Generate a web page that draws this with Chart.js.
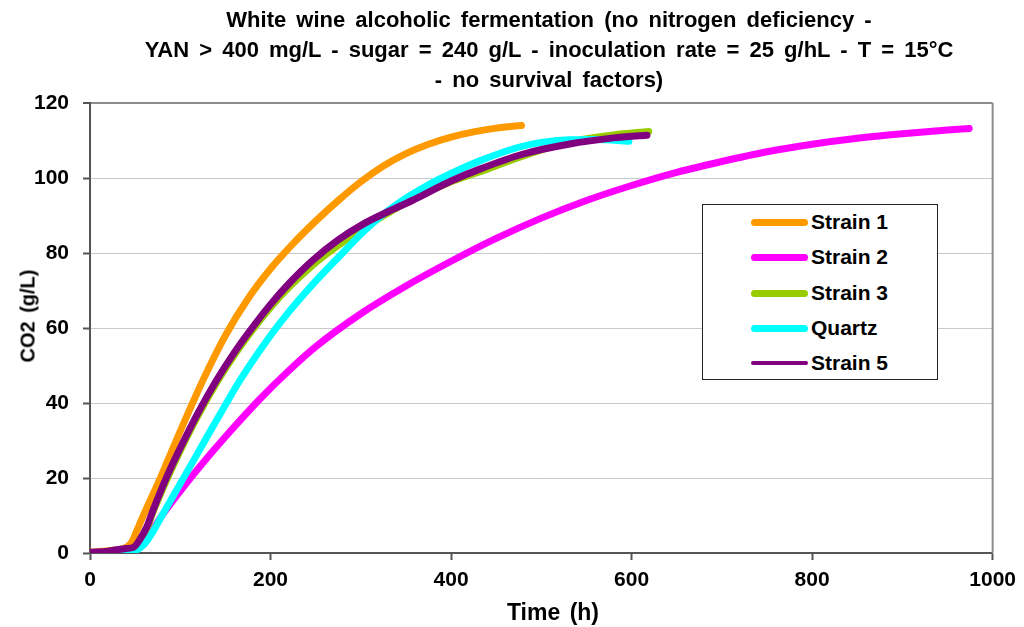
<!DOCTYPE html>
<html>
<head>
<meta charset="utf-8">
<script src="https://cdn.jsdelivr.net/npm/chart.js@4.4.1/dist/chart.umd.min.js"></script>
<style>
  html, body { margin: 0; padding: 0; background: #fff; }
  #wrap { position: relative; width: 1024px; height: 627px; font-family: 'Liberation Sans', Arial, sans-serif; }
  #title {
    position: absolute; left: 549px; top: 5px; transform: translateX(-50%);
    white-space: nowrap; text-align: center; font-weight: bold; font-size: 22px; line-height: 30px;
    word-spacing: 4px; color: #000;
  }
  .axis-title { position: absolute; white-space: nowrap; font-weight: bold; color: #000; word-spacing: 3px; }
  #xTitle { left: 553px; top: 612px; font-size: 23px; transform: translate(-50%, -50%); }
  #yTitle { left: 28px; top: 316px; font-size: 20px; transform: translate(-50%, -50%) rotate(-90deg); }
  #legend {
    position: absolute; left: 702px; top: 204px; width: 236px; height: 176px;
    border: 1px solid #222; background: #fff; box-sizing: border-box;
  }
  .row { position: absolute; left: 0; height: 30px; }
  .swatch { position: absolute; left: 48px; width: 57px; border-radius: 4px; }
  .lbl { position: absolute; left: 108px; font-weight: bold; font-size: 21px; white-space: nowrap; line-height: 30px; top: -15px; }
</style>
</head>
<body>
<div id="wrap">
  <canvas id="chart" width="1024" height="627"></canvas>
  <div id="title">White wine alcoholic fermentation (no nitrogen deficiency -<br>YAN &gt; 400 mg/L - sugar = 240 g/L - inoculation rate = 25 g/hL - T = 15°C<br>- no survival factors)</div>
  <div id="xTitle" class="axis-title">Time (h)</div>
  <div id="yTitle" class="axis-title">CO2 (g/L)</div>
  <div id="legend"></div>
</div>
<script>
// ====== データ（時間 h / CO2 g/L） ======
const seriesNames = ['Strain 1', 'Strain 2', 'Strain 3', 'Quartz', 'Strain 5'];
const seriesColors = ['#FF9900', '#FF00FF', '#99CC00', '#00FFFF', '#800080'];
const legendLineWidths = [7, 7, 7, 7, 4];

const strain1Time = [0, 20, 40, 46, 52, 60, 77, 100, 125, 150, 175, 200, 225, 250, 275, 300, 325, 350, 375, 400, 425, 450, 478];
const strain1Co2  = [0.2, 0.6, 1.5, 2.8, 6, 10.5, 19.5, 32.5, 46, 58, 67.8, 75.8, 82.5, 88.5, 94, 99, 103.2, 106.5, 109, 110.9, 112.3, 113.3, 114];

const strain2Time = [0, 20, 40, 50, 60, 68, 77, 100, 125, 150, 188, 221, 250, 300, 350, 400, 450, 500, 550, 600, 650, 700, 750, 800, 850, 900, 950, 974];
const strain2Co2  = [0.1, 0.2, 0.3, 0.8, 2.5, 5.5, 9, 16.5, 24, 31, 41, 48.8, 55, 63.8, 71.2, 77.8, 83.9, 89.3, 94, 98, 101.5, 104.4, 107, 109, 110.6, 111.8, 112.8, 113.2];

const strain3Time = [0, 20, 40, 48, 55, 63, 70, 85, 100, 120, 140, 160, 177, 200, 221, 247, 275, 304, 330, 357, 400, 431, 480, 530, 580, 619];
const strain3Co2  = [0.1, 0.3, 0.9, 1.3, 3.2, 6.5, 11, 19.5, 27.3, 36.8, 45.3, 52.8, 58.5, 65.5, 71, 76.8, 82, 86.8, 90.6, 94.3, 99, 101.6, 105.9, 109.6, 111.5, 112.4];

const quartzTime = [0, 20, 40, 50, 60, 68, 77, 100, 125, 150, 166, 200, 221, 250, 283, 300, 325, 350, 375, 400, 431, 475, 500, 530, 560, 597];
const quartzCo2  = [0.1, 0.1, 0.2, 0.6, 2.3, 5, 8.8, 18.5, 29, 39.5, 46, 58, 64.5, 72.5, 80.8, 85, 90.3, 94.6, 98.2, 101.2, 104.5, 108.2, 109.5, 110.2, 110.3, 109.8];

const strain5Time = [0, 20, 40, 48, 55, 63, 70, 85, 100, 120, 140, 160, 177, 200, 221, 247, 275, 304, 330, 357, 400, 431, 480, 530, 580, 617];
const strain5Co2  = [0.2, 0.5, 1.2, 1.5, 3.5, 7, 11.5, 20.3, 28, 37.5, 46, 53.5, 59.2, 66.3, 72, 78.1, 83.5, 87.9, 91, 94, 99.2, 102.3, 106.4, 109, 110.7, 111.4];

const xTicks = [0, 200, 400, 600, 800, 1000];
const yTicks = [0, 20, 40, 60, 80, 100, 120];

const seriesTime = [strain1Time, strain2Time, strain3Time, quartzTime, strain5Time];
const seriesCo2 = [strain1Co2, strain2Co2, strain3Co2, quartzCo2, strain5Co2];

const FONT = "'Liberation Sans', Arial, sans-serif";

const datasets = seriesNames.map((name, i) => ({
    label: name,
    data: seriesTime[i].map((t, k) => ({ x: t, y: seriesCo2[i][k] })),
    borderColor: seriesColors[i],
    backgroundColor: seriesColors[i],
    borderWidth: 7,
    borderCapStyle: 'round',
    borderJoinStyle: 'round',
    pointRadius: 0,
    cubicInterpolationMode: 'monotone',
    order: seriesNames.length - i,   // 後の系列を上に描く
}));

// プロット領域の右枠線
const frame = {
    id: 'frame',
    beforeDatasetsDraw(chart) {
        const { ctx, chartArea: a } = chart;
        ctx.save();
        ctx.strokeStyle = '#8c8c8c';
        ctx.lineWidth = 2;
        ctx.beginPath();
        ctx.moveTo(a.right, a.top);
        ctx.lineTo(a.right, a.bottom);
        ctx.stroke();
        ctx.restore();
    },
};

const chart = new Chart(document.getElementById('chart'), {
    type: 'line',
    data: { datasets },
    plugins: [frame],
    options: {
        responsive: false,
        animation: false,
        devicePixelRatio: 1,
        layout: { padding: { top: 103, right: 29, left: 0, bottom: 0 } },
        plugins: { legend: { display: false }, tooltip: { enabled: false }, title: { display: false } },
        scales: {
            x: {
                type: 'linear', min: 0, max: 1000,
                afterFit: (s) => { s.height = 74; },
                afterBuildTicks: (s) => { s.ticks = xTicks.map((v) => ({ value: v })); },
                ticks: {
                    color: '#000', font: { family: FONT, size: 21, weight: 'bold' }, padding: 8, maxRotation: 0,
                    callback: (v) => String(v),
                },
                grid: { drawOnChartArea: false, tickLength: 7, tickColor: '#555', tickWidth: 2 },
                border: { color: '#555', width: 2 },
            },
            y: {
                min: 0, max: 120,
                afterFit: (s) => { s.width = 90; },
                afterBuildTicks: (s) => { s.ticks = yTicks.map((v) => ({ value: v })); },
                ticks: { color: '#000', font: { family: FONT, size: 21, weight: 'bold' }, padding: 14 },
                grid: {
                    color: (c) => (c.tick && c.tick.value === 120 ? '#8c8c8c' : '#c8c8c8'),
                    lineWidth: (c) => (c.tick && c.tick.value === 120 ? 2 : 1),
                    tickLength: 7, tickColor: '#555', tickWidth: 2,
                },
                border: { color: '#555', width: 2 },
            },
        },
    },
});

// ====== 凡例（HTML） ======
const legendEl = document.getElementById('legend');
const rowY = [17, 52, 88, 123, 158];
chart.data.datasets.forEach((ds, i) => {
    const row = document.createElement('div');
    row.className = 'row';
    row.style.top = rowY[i] + 'px';
    const sw = document.createElement('div');
    sw.className = 'swatch';
    sw.style.background = ds.borderColor;
    sw.style.height = legendLineWidths[i] + 'px';
    sw.style.top = (-legendLineWidths[i] / 2) + 'px';
    const lbl = document.createElement('div');
    lbl.className = 'lbl';
    lbl.textContent = ds.label;
    row.appendChild(sw);
    row.appendChild(lbl);
    legendEl.appendChild(row);
});
</script>
</body>
</html>
